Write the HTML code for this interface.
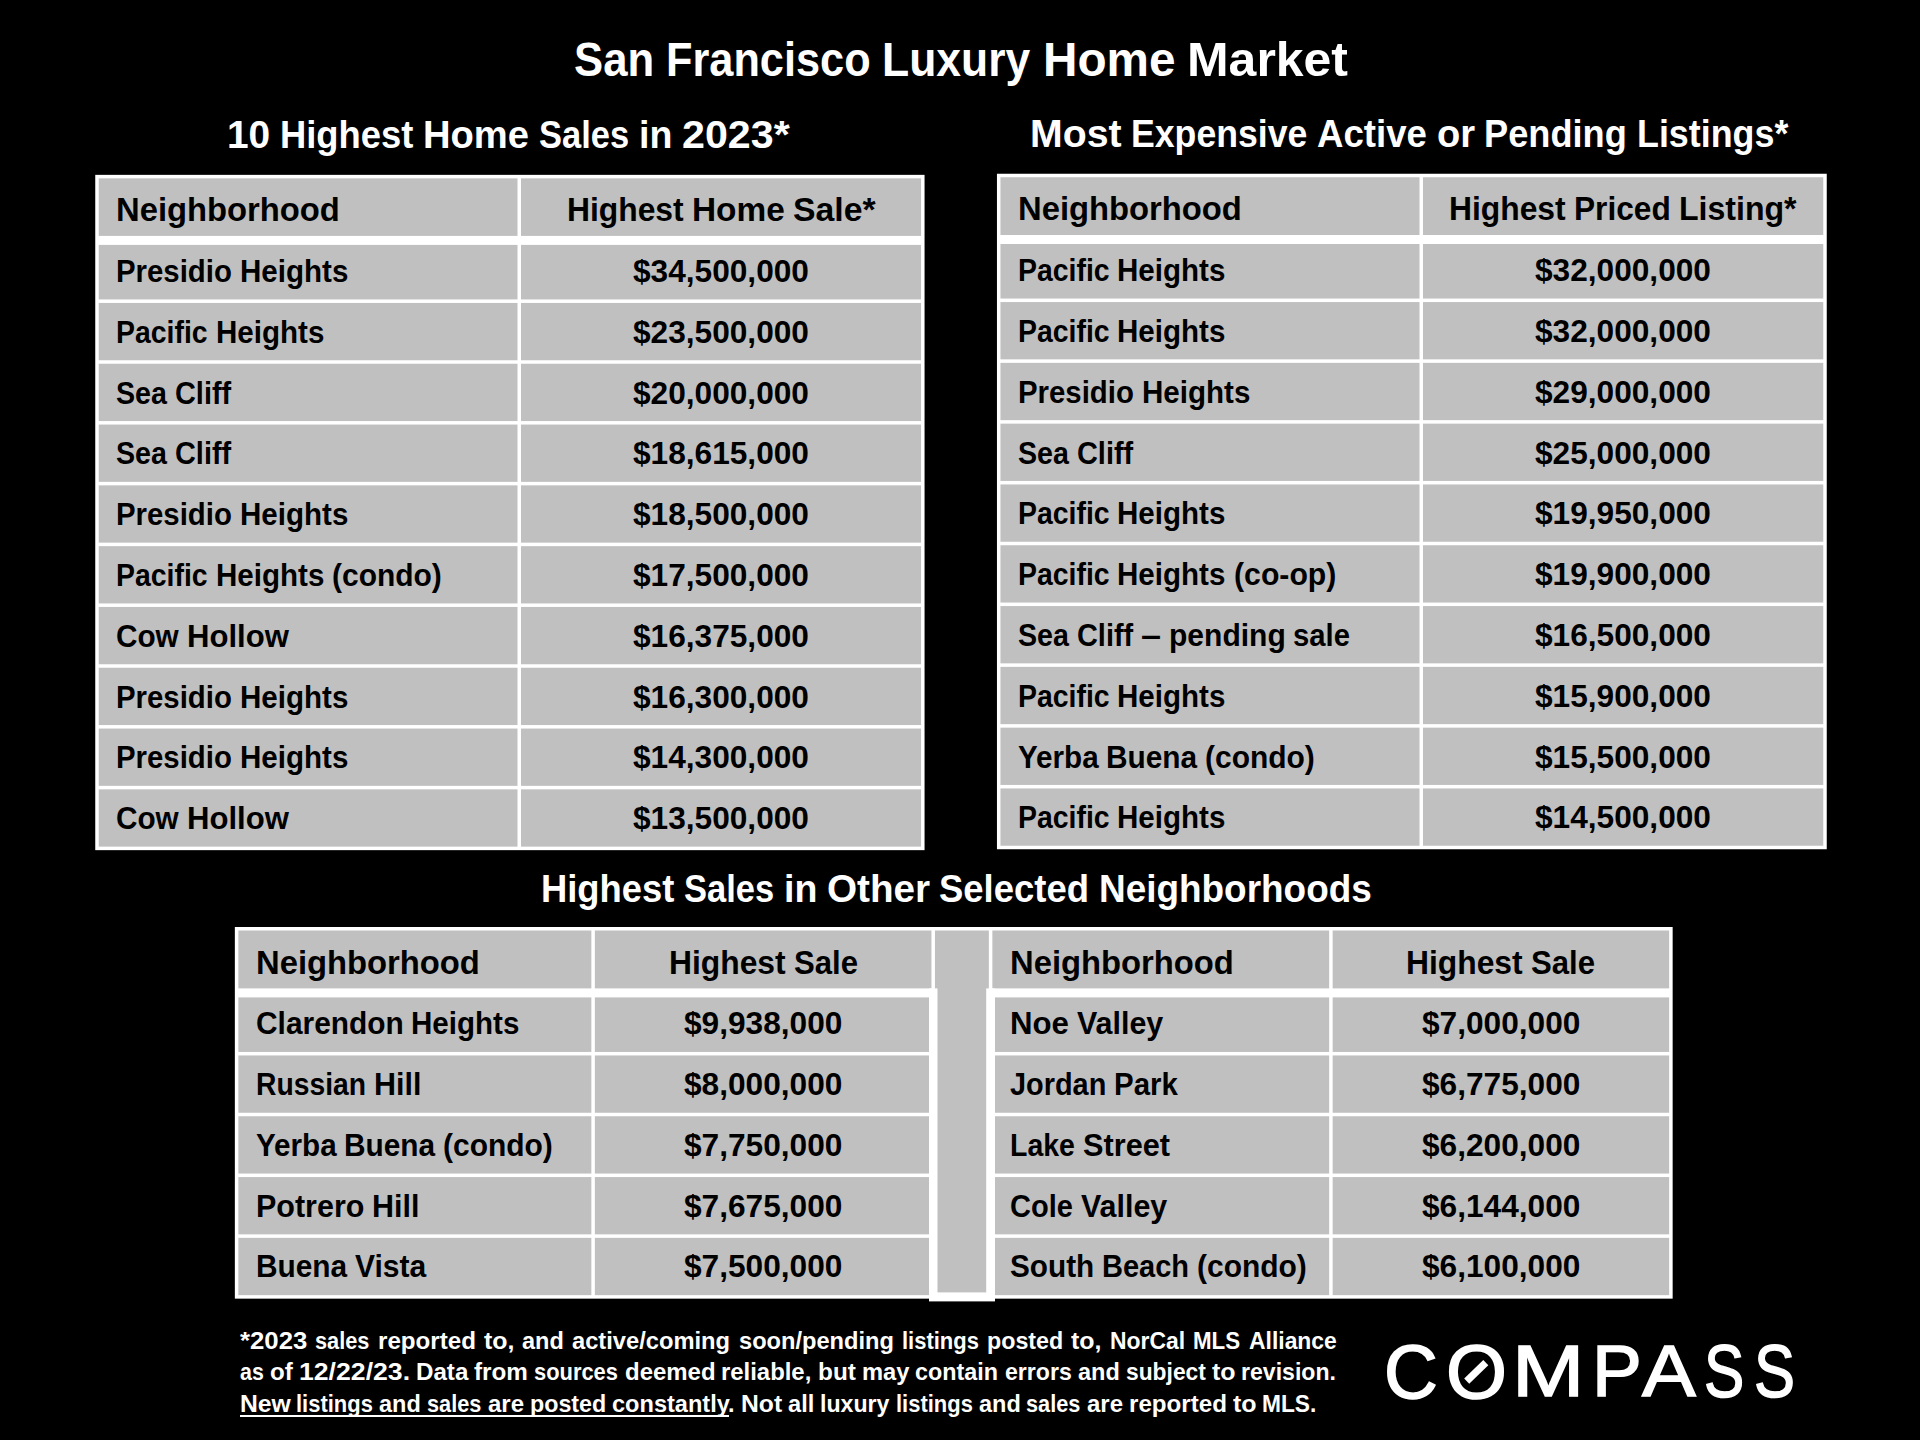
<!DOCTYPE html>
<html lang="en">
<head>
<meta charset="utf-8">
<title>San Francisco Luxury Home Market</title>
<style>
html,body{margin:0;padding:0;background:#000;}
body{width:1920px;height:1440px;position:relative;overflow:hidden;font-family:"Liberation Sans",sans-serif;font-weight:bold;}
#grid{position:absolute;left:0;top:0;}
.t{position:absolute;margin:0;padding:0;height:0;line-height:0;white-space:nowrap;font-weight:bold;}
.t span{position:absolute;top:0;white-space:pre;transform-origin:0 0;}

.w{color:#fff;}
.k{color:#000;}
.s1{font-size:48.0px;}
.s2{font-size:38.4px;}
.s3{font-size:33.6px;}
.s4{font-size:24.0px;}
.s5{font-size:31.2px;}
.s6{font-size:30.86px;}
.t i{position:absolute;left:0;height:2px;background:#fff;}
#logo{position:absolute;left:1380px;top:1372px;width:0;height:0;font-family:"Liberation Sans",sans-serif;font-weight:normal;font-size:74px;line-height:0;color:#fff;-webkit-text-stroke:1.5px #fff;}
#logo span{position:absolute;transform-origin:0 0;white-space:pre;}
#logo svg{position:absolute;left:66px;top:-30px;}

</style>
</head>
<body>
<svg id="grid" width="1920" height="1440" viewBox="0 0 1920 1440">
<rect x="95.25" y="174.85" width="829.30" height="675.30" fill="#fff"/>
<rect x="98.75" y="178.35" width="418.75" height="57.55" fill="#c0c0c0"/>
<rect x="521.00" y="178.35" width="400.05" height="57.55" fill="#c0c0c0"/>
<rect x="98.75" y="244.90" width="418.75" height="54.55" fill="#c0c0c0"/>
<rect x="521.00" y="244.90" width="400.05" height="54.55" fill="#c0c0c0"/>
<rect x="98.75" y="302.95" width="418.75" height="57.30" fill="#c0c0c0"/>
<rect x="521.00" y="302.95" width="400.05" height="57.30" fill="#c0c0c0"/>
<rect x="98.75" y="363.75" width="418.75" height="57.30" fill="#c0c0c0"/>
<rect x="521.00" y="363.75" width="400.05" height="57.30" fill="#c0c0c0"/>
<rect x="98.75" y="424.55" width="418.75" height="57.30" fill="#c0c0c0"/>
<rect x="521.00" y="424.55" width="400.05" height="57.30" fill="#c0c0c0"/>
<rect x="98.75" y="485.35" width="418.75" height="57.30" fill="#c0c0c0"/>
<rect x="521.00" y="485.35" width="400.05" height="57.30" fill="#c0c0c0"/>
<rect x="98.75" y="546.15" width="418.75" height="57.30" fill="#c0c0c0"/>
<rect x="521.00" y="546.15" width="400.05" height="57.30" fill="#c0c0c0"/>
<rect x="98.75" y="606.95" width="418.75" height="57.30" fill="#c0c0c0"/>
<rect x="521.00" y="606.95" width="400.05" height="57.30" fill="#c0c0c0"/>
<rect x="98.75" y="667.75" width="418.75" height="57.30" fill="#c0c0c0"/>
<rect x="521.00" y="667.75" width="400.05" height="57.30" fill="#c0c0c0"/>
<rect x="98.75" y="728.55" width="418.75" height="57.30" fill="#c0c0c0"/>
<rect x="521.00" y="728.55" width="400.05" height="57.30" fill="#c0c0c0"/>
<rect x="98.75" y="789.35" width="418.75" height="57.30" fill="#c0c0c0"/>
<rect x="521.00" y="789.35" width="400.05" height="57.30" fill="#c0c0c0"/>
<rect x="996.95" y="173.75" width="829.80" height="675.50" fill="#fff"/>
<rect x="1000.45" y="177.25" width="419.05" height="57.75" fill="#c0c0c0"/>
<rect x="1423.00" y="177.25" width="400.25" height="57.75" fill="#c0c0c0"/>
<rect x="1000.45" y="244.00" width="419.05" height="54.55" fill="#c0c0c0"/>
<rect x="1423.00" y="244.00" width="400.25" height="54.55" fill="#c0c0c0"/>
<rect x="1000.45" y="302.05" width="419.05" height="57.30" fill="#c0c0c0"/>
<rect x="1423.00" y="302.05" width="400.25" height="57.30" fill="#c0c0c0"/>
<rect x="1000.45" y="362.85" width="419.05" height="57.30" fill="#c0c0c0"/>
<rect x="1423.00" y="362.85" width="400.25" height="57.30" fill="#c0c0c0"/>
<rect x="1000.45" y="423.65" width="419.05" height="57.30" fill="#c0c0c0"/>
<rect x="1423.00" y="423.65" width="400.25" height="57.30" fill="#c0c0c0"/>
<rect x="1000.45" y="484.45" width="419.05" height="57.30" fill="#c0c0c0"/>
<rect x="1423.00" y="484.45" width="400.25" height="57.30" fill="#c0c0c0"/>
<rect x="1000.45" y="545.25" width="419.05" height="57.30" fill="#c0c0c0"/>
<rect x="1423.00" y="545.25" width="400.25" height="57.30" fill="#c0c0c0"/>
<rect x="1000.45" y="606.05" width="419.05" height="57.30" fill="#c0c0c0"/>
<rect x="1423.00" y="606.05" width="400.25" height="57.30" fill="#c0c0c0"/>
<rect x="1000.45" y="666.85" width="419.05" height="57.30" fill="#c0c0c0"/>
<rect x="1423.00" y="666.85" width="400.25" height="57.30" fill="#c0c0c0"/>
<rect x="1000.45" y="727.65" width="419.05" height="57.30" fill="#c0c0c0"/>
<rect x="1423.00" y="727.65" width="400.25" height="57.30" fill="#c0c0c0"/>
<rect x="1000.45" y="788.45" width="419.05" height="57.30" fill="#c0c0c0"/>
<rect x="1423.00" y="788.45" width="400.25" height="57.30" fill="#c0c0c0"/>
<rect x="234.85" y="927.00" width="700.10" height="371.65" fill="#fff"/>
<rect x="238.35" y="930.50" width="353.00" height="57.90" fill="#c0c0c0"/>
<rect x="594.85" y="930.50" width="336.60" height="57.90" fill="#c0c0c0"/>
<rect x="238.35" y="997.40" width="353.00" height="54.55" fill="#c0c0c0"/>
<rect x="594.85" y="997.40" width="336.60" height="54.55" fill="#c0c0c0"/>
<rect x="238.35" y="1055.45" width="353.00" height="57.30" fill="#c0c0c0"/>
<rect x="594.85" y="1055.45" width="336.60" height="57.30" fill="#c0c0c0"/>
<rect x="238.35" y="1116.25" width="353.00" height="57.30" fill="#c0c0c0"/>
<rect x="594.85" y="1116.25" width="336.60" height="57.30" fill="#c0c0c0"/>
<rect x="238.35" y="1177.05" width="353.00" height="57.30" fill="#c0c0c0"/>
<rect x="594.85" y="1177.05" width="336.60" height="57.30" fill="#c0c0c0"/>
<rect x="238.35" y="1237.85" width="353.00" height="57.30" fill="#c0c0c0"/>
<rect x="594.85" y="1237.85" width="336.60" height="57.30" fill="#c0c0c0"/>
<rect x="988.85" y="927.00" width="683.80" height="371.65" fill="#fff"/>
<rect x="992.35" y="930.50" width="336.80" height="57.90" fill="#c0c0c0"/>
<rect x="1332.65" y="930.50" width="336.50" height="57.90" fill="#c0c0c0"/>
<rect x="992.35" y="997.40" width="336.80" height="54.55" fill="#c0c0c0"/>
<rect x="1332.65" y="997.40" width="336.50" height="54.55" fill="#c0c0c0"/>
<rect x="992.35" y="1055.45" width="336.80" height="57.30" fill="#c0c0c0"/>
<rect x="1332.65" y="1055.45" width="336.50" height="57.30" fill="#c0c0c0"/>
<rect x="992.35" y="1116.25" width="336.80" height="57.30" fill="#c0c0c0"/>
<rect x="1332.65" y="1116.25" width="336.50" height="57.30" fill="#c0c0c0"/>
<rect x="992.35" y="1177.05" width="336.80" height="57.30" fill="#c0c0c0"/>
<rect x="1332.65" y="1177.05" width="336.50" height="57.30" fill="#c0c0c0"/>
<rect x="992.35" y="1237.85" width="336.80" height="57.30" fill="#c0c0c0"/>
<rect x="1332.65" y="1237.85" width="336.50" height="57.30" fill="#c0c0c0"/>
<rect x="934.00" y="927.00" width="56.00" height="65.90" fill="#fff"/>
<rect x="929.00" y="988.40" width="66.00" height="313.00" fill="#fff"/>
<rect x="934.95" y="930.50" width="53.90" height="57.90" fill="#c0c0c0"/>
<rect x="937.50" y="986.90" width="48.70" height="305.50" fill="#c0c0c0"/>
</svg>
<header><h1 class="t w s1" style="left:573.62px;top:60px"><span style="left:0.00px;transform:scaleX(0.9105)">San</span> <span style="left:92.22px;transform:scaleX(0.9023)">Francisco</span> <span style="left:308.89px;transform:scaleX(0.9261)">Luxury</span> <span style="left:469.16px;transform:scaleX(0.9938)">Home</span> <span style="left:613.75px;transform:scaleX(1.0405)">Market</span></h1></header>
<main>
<section><h2 class="t w s2" style="left:227.47px;top:135px"><span style="left:0.00px;transform:scaleX(1.0128)">10</span> <span style="left:52.89px;transform:scaleX(0.9468)">Highest</span> <span style="left:195.83px;transform:scaleX(0.9938)">Home</span> <span style="left:311.50px;transform:scaleX(0.8989)">Sales</span> <span style="left:411.33px;transform:scaleX(0.9776)">in</span> <span style="left:454.33px;transform:scaleX(1.0735)">2023*</span></h2>
<div role="table" id="sales" aria-label="10 Highest Home Sales in 2023">
<div role="row"><div class="t k s3" role="columnheader" style="left:116.20px;top:210px"><span style="left:0.00px;transform:scaleX(0.9757)">Neighborhood</span></div><div class="t k s3" role="columnheader" style="left:566.56px;top:210px"><span style="left:0.00px;transform:scaleX(0.9473)">Highest</span> <span style="left:125.09px;transform:scaleX(0.9945)">Home</span> <span style="left:226.31px;transform:scaleX(1.0057)">Sale*</span></div></div>
<div role="row"><div class="t k s5" role="cell" style="left:116.20px;top:272px"><span style="left:0.00px;transform:scaleX(0.9418)">Presidio</span> <span style="left:123.73px;transform:scaleX(0.9475)">Heights</span></div><div class="t k s6" role="cell" style="left:633.04px;top:272px"><span style="left:0.00px;transform:scaleX(1.0253)">$34,500,000</span></div></div>
<div role="row"><div class="t k s5" role="cell" style="left:116.20px;top:333px"><span style="left:0.00px;transform:scaleX(0.9110)">Pacific</span> <span style="left:99.44px;transform:scaleX(0.9475)">Heights</span></div><div class="t k s6" role="cell" style="left:633.04px;top:333px"><span style="left:0.00px;transform:scaleX(1.0253)">$23,500,000</span></div></div>
<div role="row"><div class="t k s5" role="cell" style="left:116.20px;top:394px"><span style="left:0.00px;transform:scaleX(0.9178)">Sea</span> <span style="left:58.78px;transform:scaleX(0.9265)">Cliff</span></div><div class="t k s6" role="cell" style="left:633.04px;top:394px"><span style="left:0.00px;transform:scaleX(1.0253)">$20,000,000</span></div></div>
<div role="row"><div class="t k s5" role="cell" style="left:116.20px;top:454px"><span style="left:0.00px;transform:scaleX(0.9178)">Sea</span> <span style="left:58.78px;transform:scaleX(0.9265)">Cliff</span></div><div class="t k s6" role="cell" style="left:633.04px;top:454px"><span style="left:0.00px;transform:scaleX(1.0253)">$18,615,000</span></div></div>
<div role="row"><div class="t k s5" role="cell" style="left:116.20px;top:515px"><span style="left:0.00px;transform:scaleX(0.9418)">Presidio</span> <span style="left:123.73px;transform:scaleX(0.9475)">Heights</span></div><div class="t k s6" role="cell" style="left:633.04px;top:515px"><span style="left:0.00px;transform:scaleX(1.0253)">$18,500,000</span></div></div>
<div role="row"><div class="t k s5" role="cell" style="left:116.20px;top:576px"><span style="left:0.00px;transform:scaleX(0.9110)">Pacific</span> <span style="left:99.44px;transform:scaleX(0.9475)">Heights</span> <span style="left:215.64px;transform:scaleX(0.9608)">(condo)</span></div><div class="t k s6" role="cell" style="left:633.04px;top:576px"><span style="left:0.00px;transform:scaleX(1.0253)">$17,500,000</span></div></div>
<div role="row"><div class="t k s5" role="cell" style="left:116.20px;top:637px"><span style="left:0.00px;transform:scaleX(0.9528)">Cow</span> <span style="left:70.58px;transform:scaleX(0.9969)">Hollow</span></div><div class="t k s6" role="cell" style="left:633.04px;top:637px"><span style="left:0.00px;transform:scaleX(1.0253)">$16,375,000</span></div></div>
<div role="row"><div class="t k s5" role="cell" style="left:116.20px;top:698px"><span style="left:0.00px;transform:scaleX(0.9418)">Presidio</span> <span style="left:123.73px;transform:scaleX(0.9475)">Heights</span></div><div class="t k s6" role="cell" style="left:633.04px;top:698px"><span style="left:0.00px;transform:scaleX(1.0253)">$16,300,000</span></div></div>
<div role="row"><div class="t k s5" role="cell" style="left:116.20px;top:758px"><span style="left:0.00px;transform:scaleX(0.9418)">Presidio</span> <span style="left:123.73px;transform:scaleX(0.9475)">Heights</span></div><div class="t k s6" role="cell" style="left:633.04px;top:758px"><span style="left:0.00px;transform:scaleX(1.0253)">$14,300,000</span></div></div>
<div role="row"><div class="t k s5" role="cell" style="left:116.20px;top:819px"><span style="left:0.00px;transform:scaleX(0.9528)">Cow</span> <span style="left:70.58px;transform:scaleX(0.9969)">Hollow</span></div><div class="t k s6" role="cell" style="left:633.04px;top:819px"><span style="left:0.00px;transform:scaleX(1.0253)">$13,500,000</span></div></div>
</div>
</section>
<section><h2 class="t w s2" style="left:1029.77px;top:134px"><span style="left:0.00px;transform:scaleX(1.0220)">Most</span> <span style="left:101.19px;transform:scaleX(0.9288)">Expensive</span> <span style="left:287.25px;transform:scaleX(0.9540)">Active</span> <span style="left:406.83px;transform:scaleX(0.9919)">or</span> <span style="left:454.56px;transform:scaleX(0.9434)">Pending</span> <span style="left:607.06px;transform:scaleX(0.9339)">Listings*</span></h2>
<div role="table" id="listings" aria-label="Most Expensive Active or Pending Listings">
<div role="row"><div class="t k s3" role="columnheader" style="left:1017.90px;top:209px"><span style="left:0.00px;transform:scaleX(0.9757)">Neighborhood</span></div><div class="t k s3" role="columnheader" style="left:1449.19px;top:209px"><span style="left:0.00px;transform:scaleX(0.9473)">Highest</span> <span style="left:125.09px;transform:scaleX(0.9425)">Priced</span> <span style="left:230.28px;transform:scaleX(0.9551)">Listing*</span></div></div>
<div role="row"><div class="t k s5" role="cell" style="left:1017.90px;top:271px"><span style="left:0.00px;transform:scaleX(0.9110)">Pacific</span> <span style="left:99.44px;transform:scaleX(0.9475)">Heights</span></div><div class="t k s6" role="cell" style="left:1535.14px;top:271px"><span style="left:0.00px;transform:scaleX(1.0253)">$32,000,000</span></div></div>
<div role="row"><div class="t k s5" role="cell" style="left:1017.90px;top:332px"><span style="left:0.00px;transform:scaleX(0.9110)">Pacific</span> <span style="left:99.44px;transform:scaleX(0.9475)">Heights</span></div><div class="t k s6" role="cell" style="left:1535.14px;top:332px"><span style="left:0.00px;transform:scaleX(1.0253)">$32,000,000</span></div></div>
<div role="row"><div class="t k s5" role="cell" style="left:1017.90px;top:393px"><span style="left:0.00px;transform:scaleX(0.9418)">Presidio</span> <span style="left:123.73px;transform:scaleX(0.9475)">Heights</span></div><div class="t k s6" role="cell" style="left:1535.14px;top:393px"><span style="left:0.00px;transform:scaleX(1.0253)">$29,000,000</span></div></div>
<div role="row"><div class="t k s5" role="cell" style="left:1017.90px;top:454px"><span style="left:0.00px;transform:scaleX(0.9178)">Sea</span> <span style="left:58.78px;transform:scaleX(0.9265)">Cliff</span></div><div class="t k s6" role="cell" style="left:1535.14px;top:454px"><span style="left:0.00px;transform:scaleX(1.0253)">$25,000,000</span></div></div>
<div role="row"><div class="t k s5" role="cell" style="left:1017.90px;top:514px"><span style="left:0.00px;transform:scaleX(0.9110)">Pacific</span> <span style="left:99.44px;transform:scaleX(0.9475)">Heights</span></div><div class="t k s6" role="cell" style="left:1535.14px;top:514px"><span style="left:0.00px;transform:scaleX(1.0253)">$19,950,000</span></div></div>
<div role="row"><div class="t k s5" role="cell" style="left:1017.90px;top:575px"><span style="left:0.00px;transform:scaleX(0.9110)">Pacific</span> <span style="left:99.44px;transform:scaleX(0.9475)">Heights</span> <span style="left:215.64px;transform:scaleX(0.9692)">(co-op)</span></div><div class="t k s6" role="cell" style="left:1535.14px;top:575px"><span style="left:0.00px;transform:scaleX(1.0253)">$19,900,000</span></div></div>
<div role="row"><div class="t k s5" role="cell" style="left:1017.90px;top:636px"><span style="left:0.00px;transform:scaleX(0.9178)">Sea</span> <span style="left:58.78px;transform:scaleX(0.9265)">Cliff</span> <span style="left:122.80px;transform:scaleX(1.1550)">–</span> <span style="left:150.69px;transform:scaleX(0.9630)">pending</span> <span style="left:275.30px;transform:scaleX(0.9372)">sale</span></div><div class="t k s6" role="cell" style="left:1535.14px;top:636px"><span style="left:0.00px;transform:scaleX(1.0253)">$16,500,000</span></div></div>
<div role="row"><div class="t k s5" role="cell" style="left:1017.90px;top:697px"><span style="left:0.00px;transform:scaleX(0.9110)">Pacific</span> <span style="left:99.44px;transform:scaleX(0.9475)">Heights</span></div><div class="t k s6" role="cell" style="left:1535.14px;top:697px"><span style="left:0.00px;transform:scaleX(1.0253)">$15,900,000</span></div></div>
<div role="row"><div class="t k s5" role="cell" style="left:1017.90px;top:758px"><span style="left:0.00px;transform:scaleX(0.9498)">Yerba</span> <span style="left:88.55px;transform:scaleX(0.9564)">Buena</span> <span style="left:187.55px;transform:scaleX(0.9608)">(condo)</span></div><div class="t k s6" role="cell" style="left:1535.14px;top:758px"><span style="left:0.00px;transform:scaleX(1.0253)">$15,500,000</span></div></div>
<div role="row"><div class="t k s5" role="cell" style="left:1017.90px;top:818px"><span style="left:0.00px;transform:scaleX(0.9110)">Pacific</span> <span style="left:99.44px;transform:scaleX(0.9475)">Heights</span></div><div class="t k s6" role="cell" style="left:1535.14px;top:818px"><span style="left:0.00px;transform:scaleX(1.0253)">$14,500,000</span></div></div>
</div>
</section>
<section><h2 class="t w s2" style="left:540.75px;top:889px"><span style="left:0.00px;transform:scaleX(0.9469)">Highest</span> <span style="left:142.95px;transform:scaleX(0.8989)">Sales</span> <span style="left:242.78px;transform:scaleX(0.9780)">in</span> <span style="left:285.80px;transform:scaleX(1.0075)">Other</span> <span style="left:398.59px;transform:scaleX(0.9503)">Selected</span> <span style="left:558.31px;transform:scaleX(0.9618)">Neighborhoods</span></h2>
<div role="table" id="other-a" aria-label="Highest Sales in Other Selected Neighborhoods">
<div role="row"><div class="t k s3" role="columnheader" style="left:255.80px;top:963px"><span style="left:0.00px;transform:scaleX(0.9757)">Neighborhood</span></div><div class="t k s3" role="columnheader" style="left:668.59px;top:963px"><span style="left:0.00px;transform:scaleX(0.9473)">Highest</span> <span style="left:125.09px;transform:scaleX(0.9269)">Sale</span></div></div>
<div role="row"><div class="t k s5" role="cell" style="left:255.80px;top:1024px"><span style="left:0.00px;transform:scaleX(0.9582)">Clarendon</span> <span style="left:155.61px;transform:scaleX(0.9474)">Heights</span></div><div class="t k s6" role="cell" style="left:683.95px;top:1024px"><span style="left:0.00px;transform:scaleX(1.0255)">$9,938,000</span></div></div>
<div role="row"><div class="t k s5" role="cell" style="left:255.80px;top:1085px"><span style="left:0.00px;transform:scaleX(0.9065)">Russian</span> <span style="left:117.81px;transform:scaleX(0.9768)">Hill</span></div><div class="t k s6" role="cell" style="left:683.95px;top:1085px"><span style="left:0.00px;transform:scaleX(1.0255)">$8,000,000</span></div></div>
<div role="row"><div class="t k s5" role="cell" style="left:255.80px;top:1146px"><span style="left:0.00px;transform:scaleX(0.9498)">Yerba</span> <span style="left:88.55px;transform:scaleX(0.9564)">Buena</span> <span style="left:187.55px;transform:scaleX(0.9608)">(condo)</span></div><div class="t k s6" role="cell" style="left:683.95px;top:1146px"><span style="left:0.00px;transform:scaleX(1.0255)">$7,750,000</span></div></div>
<div role="row"><div class="t k s5" role="cell" style="left:255.80px;top:1207px"><span style="left:0.00px;transform:scaleX(0.9776)">Potrero</span> <span style="left:116.28px;transform:scaleX(0.9765)">Hill</span></div><div class="t k s6" role="cell" style="left:683.95px;top:1207px"><span style="left:0.00px;transform:scaleX(1.0255)">$7,675,000</span></div></div>
<div role="row"><div class="t k s5" role="cell" style="left:255.80px;top:1267px"><span style="left:0.00px;transform:scaleX(0.9566)">Buena</span> <span style="left:99.02px;transform:scaleX(0.9628)">Vista</span></div><div class="t k s6" role="cell" style="left:683.95px;top:1267px"><span style="left:0.00px;transform:scaleX(1.0255)">$7,500,000</span></div></div>
</div>
<div role="table" id="other-b" aria-label="Highest Sales in Other Selected Neighborhoods, continued">
<div role="row"><div class="t k s3" role="columnheader" style="left:1009.80px;top:963px"><span style="left:0.00px;transform:scaleX(0.9757)">Neighborhood</span></div><div class="t k s3" role="columnheader" style="left:1406.34px;top:963px"><span style="left:0.00px;transform:scaleX(0.9473)">Highest</span> <span style="left:125.09px;transform:scaleX(0.9269)">Sale</span></div></div>
<div role="row"><div class="t k s5" role="cell" style="left:1009.80px;top:1024px"><span style="left:0.00px;transform:scaleX(0.9997)">Noe</span> <span style="left:66.75px;transform:scaleX(0.9751)">Valley</span></div><div class="t k s6" role="cell" style="left:1421.70px;top:1024px"><span style="left:0.00px;transform:scaleX(1.0255)">$7,000,000</span></div></div>
<div role="row"><div class="t k s5" role="cell" style="left:1009.80px;top:1085px"><span style="left:0.00px;transform:scaleX(0.9262)">Jordan</span> <span style="left:104.14px;transform:scaleX(0.9436)">Park</span></div><div class="t k s6" role="cell" style="left:1421.70px;top:1085px"><span style="left:0.00px;transform:scaleX(1.0255)">$6,775,000</span></div></div>
<div role="row"><div class="t k s5" role="cell" style="left:1009.80px;top:1146px"><span style="left:0.00px;transform:scaleX(0.9130)">Lake</span> <span style="left:72.73px;transform:scaleX(0.9841)">Street</span></div><div class="t k s6" role="cell" style="left:1421.70px;top:1146px"><span style="left:0.00px;transform:scaleX(1.0255)">$6,200,000</span></div></div>
<div role="row"><div class="t k s5" role="cell" style="left:1009.80px;top:1207px"><span style="left:0.00px;transform:scaleX(0.9311)">Cole</span> <span style="left:70.78px;transform:scaleX(0.9751)">Valley</span></div><div class="t k s6" role="cell" style="left:1421.70px;top:1207px"><span style="left:0.00px;transform:scaleX(1.0255)">$6,144,000</span></div></div>
<div role="row"><div class="t k s5" role="cell" style="left:1009.80px;top:1267px"><span style="left:0.00px;transform:scaleX(0.9535)">South</span> <span style="left:92.06px;transform:scaleX(0.9302)">Beach</span> <span style="left:186.98px;transform:scaleX(0.9606)">(condo)</span></div><div class="t k s6" role="cell" style="left:1421.70px;top:1267px"><span style="left:0.00px;transform:scaleX(1.0255)">$6,100,000</span></div></div>
</div>
</section>
</main>
<footer>
<p class="t w s4" style="left:239.60px;top:1341px"><span style="left:0.00px;transform:scaleX(1.0732)">*2023</span> <span style="left:75.50px;transform:scaleX(0.9058)">sales</span> <span style="left:138.08px;transform:scaleX(1.0063)">reported</span> <span style="left:244.24px;transform:scaleX(1.0378)">to,</span> <span style="left:282.86px;transform:scaleX(0.9788)">and</span> <span style="left:332.81px;transform:scaleX(0.9875)">active/coming</span> <span style="left:499.06px;transform:scaleX(0.9845)">soon/pending</span> <span style="left:662.11px;transform:scaleX(0.9156)">listings</span> <span style="left:747.21px;transform:scaleX(0.9690)">posted</span> <span style="left:831.63px;transform:scaleX(1.0378)">to,</span> <span style="left:870.25px;transform:scaleX(0.9553)">NorCal</span> <span style="left:953.61px;transform:scaleX(0.9309)">MLS</span> <span style="left:1008.97px;transform:scaleX(0.9542)">Alliance</span></p>
<p class="t w s4" style="left:239.60px;top:1372px"><span style="left:0.00px;transform:scaleX(0.8912)">as</span> <span style="left:29.98px;transform:scaleX(1.0048)">of</span> <span style="left:58.93px;transform:scaleX(1.1097)">12/22/23.</span> <span style="left:176.20px;transform:scaleX(1.0063)">Data</span> <span style="left:234.74px;transform:scaleX(1.0108)">from</span> <span style="left:294.85px;transform:scaleX(0.9119)">sources</span> <span style="left:384.97px;transform:scaleX(0.9983)">deemed</span> <span style="left:481.71px;transform:scaleX(0.9953)">reliable,</span> <span style="left:578.17px;transform:scaleX(1.0147)">but</span> <span style="left:622.20px;transform:scaleX(0.9880)">may</span> <span style="left:675.86px;transform:scaleX(0.9731)">contain</span> <span style="left:765.07px;transform:scaleX(0.9631)">errors</span> <span style="left:838.07px;transform:scaleX(0.9788)">and</span> <span style="left:886.02px;transform:scaleX(0.9504)">subject</span> <span style="left:972.07px;transform:scaleX(1.0400)">to</span> <span style="left:1001.82px;transform:scaleX(0.9622)">revision.</span></p>
<p class="t w s4" style="left:239.60px;top:1404px"><span style="left:0.00px;transform:scaleX(1.0301)">New</span> <span style="left:56.88px;transform:scaleX(0.9154)">listings</span> <span style="left:139.81px;transform:scaleX(0.9788)">and</span> <span style="left:187.61px;transform:scaleX(0.9056)">sales</span> <span style="left:248.02px;transform:scaleX(1.0004)">are</span> <span style="left:290.11px;transform:scaleX(0.9690)">posted</span> <span style="left:372.36px;transform:scaleX(0.9819)">constantly.</span> <span style="left:501.05px;transform:scaleX(1.0285)">Not</span> <span style="left:548.20px;transform:scaleX(0.9836)">all</span> <span style="left:580.48px;transform:scaleX(0.9649)">luxury</span> <span style="left:656.02px;transform:scaleX(0.9154)">listings</span> <span style="left:738.95px;transform:scaleX(0.9788)">and</span> <span style="left:786.75px;transform:scaleX(0.9056)">sales</span> <span style="left:847.16px;transform:scaleX(1.0004)">are</span> <span style="left:889.25px;transform:scaleX(1.0063)">reported</span> <span style="left:993.23px;transform:scaleX(1.0407)">to</span> <span style="left:1022.84px;transform:scaleX(0.9469)">MLS.</span><i style="top:11px;width:489.5px"></i></p>
<div id="logo">
<span style="left:3.87px;top:-0.28px;transform:scale(1.0072,1.0211)">C</span>
<span style="left:65.54px;top:-0.28px;transform:scale(1.0591,1.0211)">O</span>
<span style="left:132.13px;top:-0.32px;transform:scale(1.1737,0.9772)">M</span>
<span style="left:212.12px;top:-0.32px;transform:scale(1.0093,0.9772)">P</span>
<span style="left:261.84px;top:-0.32px;transform:scale(1.0903,0.9772)">A</span>
<span style="left:324.26px;top:-0.31px;transform:scale(0.8157,0.9973)">S</span>
<span style="left:374.21px;top:-0.31px;transform:scale(0.8298,0.9973)">S</span>
<svg width="60" height="60" viewBox="0 0 60 60"><line x1="20.7" y1="39.2" x2="39.8" y2="20.6" stroke="#fff" stroke-width="7.2"/></svg>
</div>
</footer>
</body>
</html>
